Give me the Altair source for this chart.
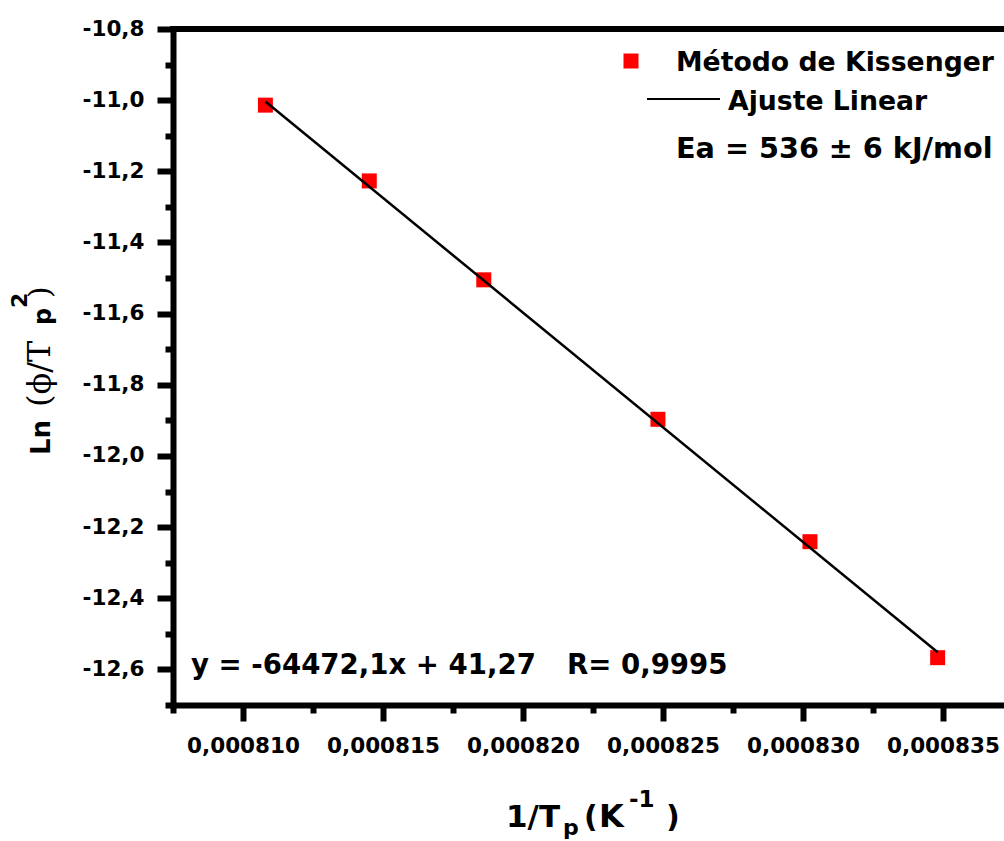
import altair as alt
import pandas as pd

# Kissenger analysis: 1/Tp (K^-1) vs Ln(phi/Tp^2)
inv_tp = [0.00081080, 0.00081451, 0.00081860, 0.00082482, 0.00083025, 0.00083481]
ln_phi_tp2 = [-11.014, -11.227, -11.505, -11.897, -12.241, -12.567]

# linear fit reported on the chart
fit_slope = -64472.1
fit_intercept = 41.27
fit_r = "0,9995"

x_major = [0.000810, 0.000815, 0.000820, 0.000825, 0.000830, 0.000835]
x_minor = [0.0008075, 0.0008125, 0.0008175, 0.0008225, 0.0008275, 0.0008325]
y_major = [-12.6, -12.4, -12.2, -12.0, -11.8, -11.6, -11.4, -11.2, -11.0, -10.8]
y_minor = [-12.7, -12.5, -12.3, -12.1, -11.9, -11.7, -11.5, -11.3, -11.1, -10.9]
x_domain = [0.0008075, 0.00083718]
y_domain = [-12.7, -10.8]

W, H = 831, 676
SANS = "DejaVu Sans"
SERIF = "DejaVu Serif"

points_df = pd.DataFrame({"x": inv_tp, "y": ln_phi_tp2})
fit_x = [min(inv_tp), max(inv_tp)]
fit_df = pd.DataFrame({"x": fit_x, "y": [fit_slope * v + fit_intercept for v in fit_x]})

xs = alt.Scale(domain=x_domain, nice=False, zero=False)
ys = alt.Scale(domain=y_domain, nice=False, zero=False)

x_axis = alt.Axis(
    orient="bottom", values=x_major, title=None, tickSize=16, labelPadding=14,
    labelExpr="replace(format(datum.value, '.6f'), '.', ',')",
    labelFontSize=21.5, labelFlush=False, labelOverlap=False,
)
y_axis = alt.Axis(
    orient="left", values=y_major, title=None, tickSize=16, labelPadding=13,
    labelExpr="replace(replace(format(datum.value, '.1f'), '.', ','), '\u2212', '-')",
    labelFontSize=21.5, labelOverlap=False,
)
x_axis_minor = alt.Axis(orient="bottom", values=x_minor, title=None, tickSize=8,
                        labels=False, domain=False)
y_axis_minor = alt.Axis(orient="left", values=y_minor, title=None, tickSize=8,
                        labels=False, domain=False)

points = alt.Chart(points_df).mark_square(size=225, color="#ff0000", opacity=1).encode(
    x=alt.X("x:Q", scale=xs, axis=x_axis),
    y=alt.Y("y:Q", scale=ys, axis=y_axis),
)

minor = alt.Chart(points_df).mark_point(opacity=0).encode(
    x=alt.X("x:Q", scale=xs, axis=x_axis_minor),
    y=alt.Y("y:Q", scale=ys, axis=y_axis_minor),
)

fit_line = alt.Chart(fit_df).mark_line(color="black", strokeWidth=2.5).encode(
    x=alt.X("x:Q", scale=xs, axis=None),
    y=alt.Y("y:Q", scale=ys, axis=None),
)

top_frame = alt.Chart(pd.DataFrame({"k": [0]})).mark_rule(color="black", strokeWidth=6).encode(
    x=alt.value(-3), x2=alt.value(W), y=alt.value(0)
)


def label(text, x, y, size, font=SANS, weight="bold", angle=0):
    return alt.Chart(pd.DataFrame({"t": [text]})).mark_text(
        font=font, fontSize=size, fontWeight=weight, align="left",
        baseline="alphabetic", color="black", angle=angle,
    ).encode(x=alt.value(x), y=alt.value(y), text="t:N")


# legend
legend_marker = alt.Chart(pd.DataFrame({"k": [0]})).mark_square(
    size=225, color="#ff0000", opacity=1
).encode(x=alt.value(458), y=alt.value(32))
legend_line = alt.Chart(pd.DataFrame({"k": [0]})).mark_rule(color="black", strokeWidth=2).encode(
    x=alt.value(474), x2=alt.value(547), y=alt.value(70)
)
legend_texts = [
    label("Método de Kissenger", 503, 42, 26.7),
    label("Ajuste Linear", 555, 81, 26.7),
    label("Ea = 536 ± 6 kJ/mol", 503, 129, 28.7),
]

# fit equation
slope_txt = f"{fit_slope:.1f}".replace(".", ",")
icpt_txt = f"{fit_intercept:.2f}".replace(".", ",")
equation = [
    label(f"y = {slope_txt}x + {icpt_txt}", 18, 645, 27.6),
    label(f"R= {fit_r}", 394, 645, 27.6),
]

# x axis title: 1/Tp (K^-1)
x_title = [
    label("1/T", 333, 798, 31),
    label("p", 390, 806, 22),
    label("(", 411, 798, 30),
    label("K", 426, 798, 32),
    label("-1", 456, 778, 23),
    label(")", 493, 798, 30),
]

# y axis title: Ln (phi/Tp^2), rotated
y_title = [
    label("Ln", -123, 426, 26, angle=270),
    label("(ϕ/T", -123, 378, 32, font=SERIF, weight="normal", angle=270),
    label("p", -122, 296, 24, angle=270),
    label("2", -146, 279, 22, angle=270),
    label(")", -123, 269, 30, font=SERIF, weight="normal", angle=270),
]

chart = alt.layer(
    points, minor, fit_line, top_frame, legend_marker, legend_line,
    *legend_texts, *equation, *x_title, *y_title,
).resolve_axis(
    x="independent", y="independent"
).properties(
    width=W, height=H,
    padding={"left": 173, "top": 29, "right": 0, "bottom": 136},
    autosize=alt.AutoSizeParams(type="none"),
    background="white",
).configure_view(
    stroke=None
).configure_axis(
    domainColor="black", domainWidth=6, domainCap="square",
    tickColor="black", tickWidth=6,
    labelFont=SANS, labelFontWeight="bold", labelColor="black",
    grid=False,
)

chart.save("out.html", embed_options={"renderer": "svg", "actions": False})
